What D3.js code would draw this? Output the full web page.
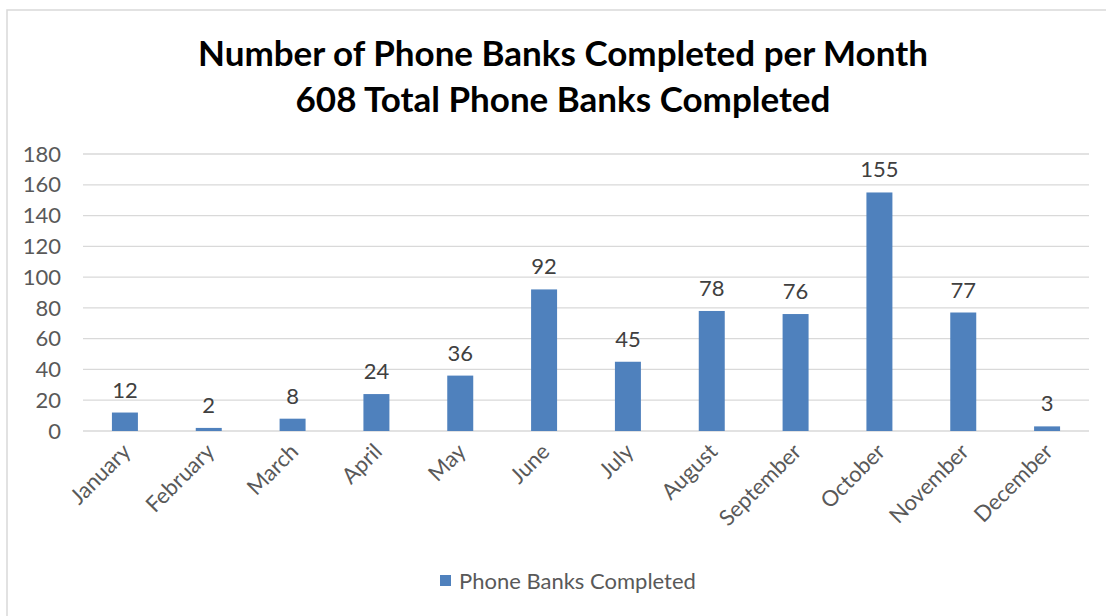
<!DOCTYPE html>
<html>
<head>
<meta charset="utf-8">
<script src="https://cdn.jsdelivr.net/npm/d3@7"></script>
<style>
  body { margin: 0; background: #fff; }
  svg { display: block; font-family: Lato, "Open Sans", sans-serif; }
</style>
</head>
<body>
<svg id="chart" width="1106" height="616"></svg>
<script>
// chart data
const months = ["January", "February", "March", "April", "May", "June",
  "July", "August", "September", "October", "November", "December"];
const completed = [12, 2, 8, 24, 36, 92, 45, 78, 76, 155, 77, 3];
const yTicks = [0, 20, 40, 60, 80, 100, 120, 140, 160, 180];
const titleLines = ["Number of Phone Banks Completed per Month", "608 Total Phone Banks Completed"];
const seriesName = "Phone Banks Completed";

const width = 1106, height = 616;
const margin = { top: 154, right: 17, bottom: 185, left: 83 };
const svg = d3.select("#chart");

// outer frame
svg.append("rect")
  .attr("x", 7).attr("y", 10)
  .attr("width", width + 10).attr("height", height + 10)
  .attr("fill", "none")
  .attr("stroke", "#d9d9d9")
  .attr("stroke-width", 1.5);

const x = d3.scaleBand()
  .domain(months)
  .range([margin.left, width - margin.right])
  .paddingInner(0.69)
  .paddingOuter(0.345);

const y = d3.scaleLinear()
  .domain([0, 180])
  .range([height - margin.bottom, margin.top]);

// gridlines
svg.append("g")
  .selectAll("line")
  .data(yTicks)
  .join("line")
  .attr("x1", margin.left)
  .attr("x2", width - margin.right)
  .attr("y1", d => y(d))
  .attr("y2", d => y(d))
  .attr("stroke", "#d9d9d9")
  .attr("stroke-width", 1.3);

// y tick labels
svg.append("g")
  .selectAll("text")
  .data(yTicks)
  .join("text")
  .attr("x", 61)
  .attr("y", d => y(d))
  .attr("dy", "0.35em")
  .attr("text-anchor", "end")
  .attr("fill", "#595959")
  .style("font-size", "22px")
  .text(d => d);

// bars
svg.append("g")
  .selectAll("rect")
  .data(completed)
  .join("rect")
  .attr("x", (d, i) => x(months[i]))
  .attr("y", d => y(d))
  .attr("width", x.bandwidth())
  .attr("height", d => y(0) - y(d))
  .attr("fill", "#4f81bd");

// value labels
svg.append("g")
  .selectAll("text")
  .data(completed)
  .join("text")
  .attr("x", (d, i) => x(months[i]) + x.bandwidth() / 2)
  .attr("y", d => y(d) - 15)
  .attr("text-anchor", "middle")
  .attr("fill", "#404040")
  .style("font-size", "22px")
  .text(d => d);

// x axis labels, rotated
svg.append("g")
  .selectAll("text")
  .data(months)
  .join("text")
  .attr("transform", d => `translate(${x(d) + x.bandwidth() / 2 + 7},${y(0) + 22}) rotate(-45)`)
  .attr("text-anchor", "end")
  .attr("fill", "#595959")
  .style("font-size", "22px")
  .text(d => d);

// title
svg.append("g")
  .selectAll("text")
  .data(titleLines)
  .join("text")
  .attr("x", 563)
  .attr("y", (d, i) => 66 + i * 46)
  .attr("text-anchor", "middle")
  .attr("fill", "#000")
  .style("font-size", "35px")
  .style("font-weight", "bold")
  .text(d => d);

// legend
const legend = svg.append("g").attr("transform", "translate(440,575)");
legend.append("rect")
  .attr("width", 11).attr("height", 11)
  .attr("fill", "#4f81bd");
legend.append("text")
  .attr("x", 19).attr("y", 6)
  .attr("dy", "0.35em")
  .attr("fill", "#595959")
  .style("font-size", "22px")
  .text(seriesName);
</script>
</body>
</html>
